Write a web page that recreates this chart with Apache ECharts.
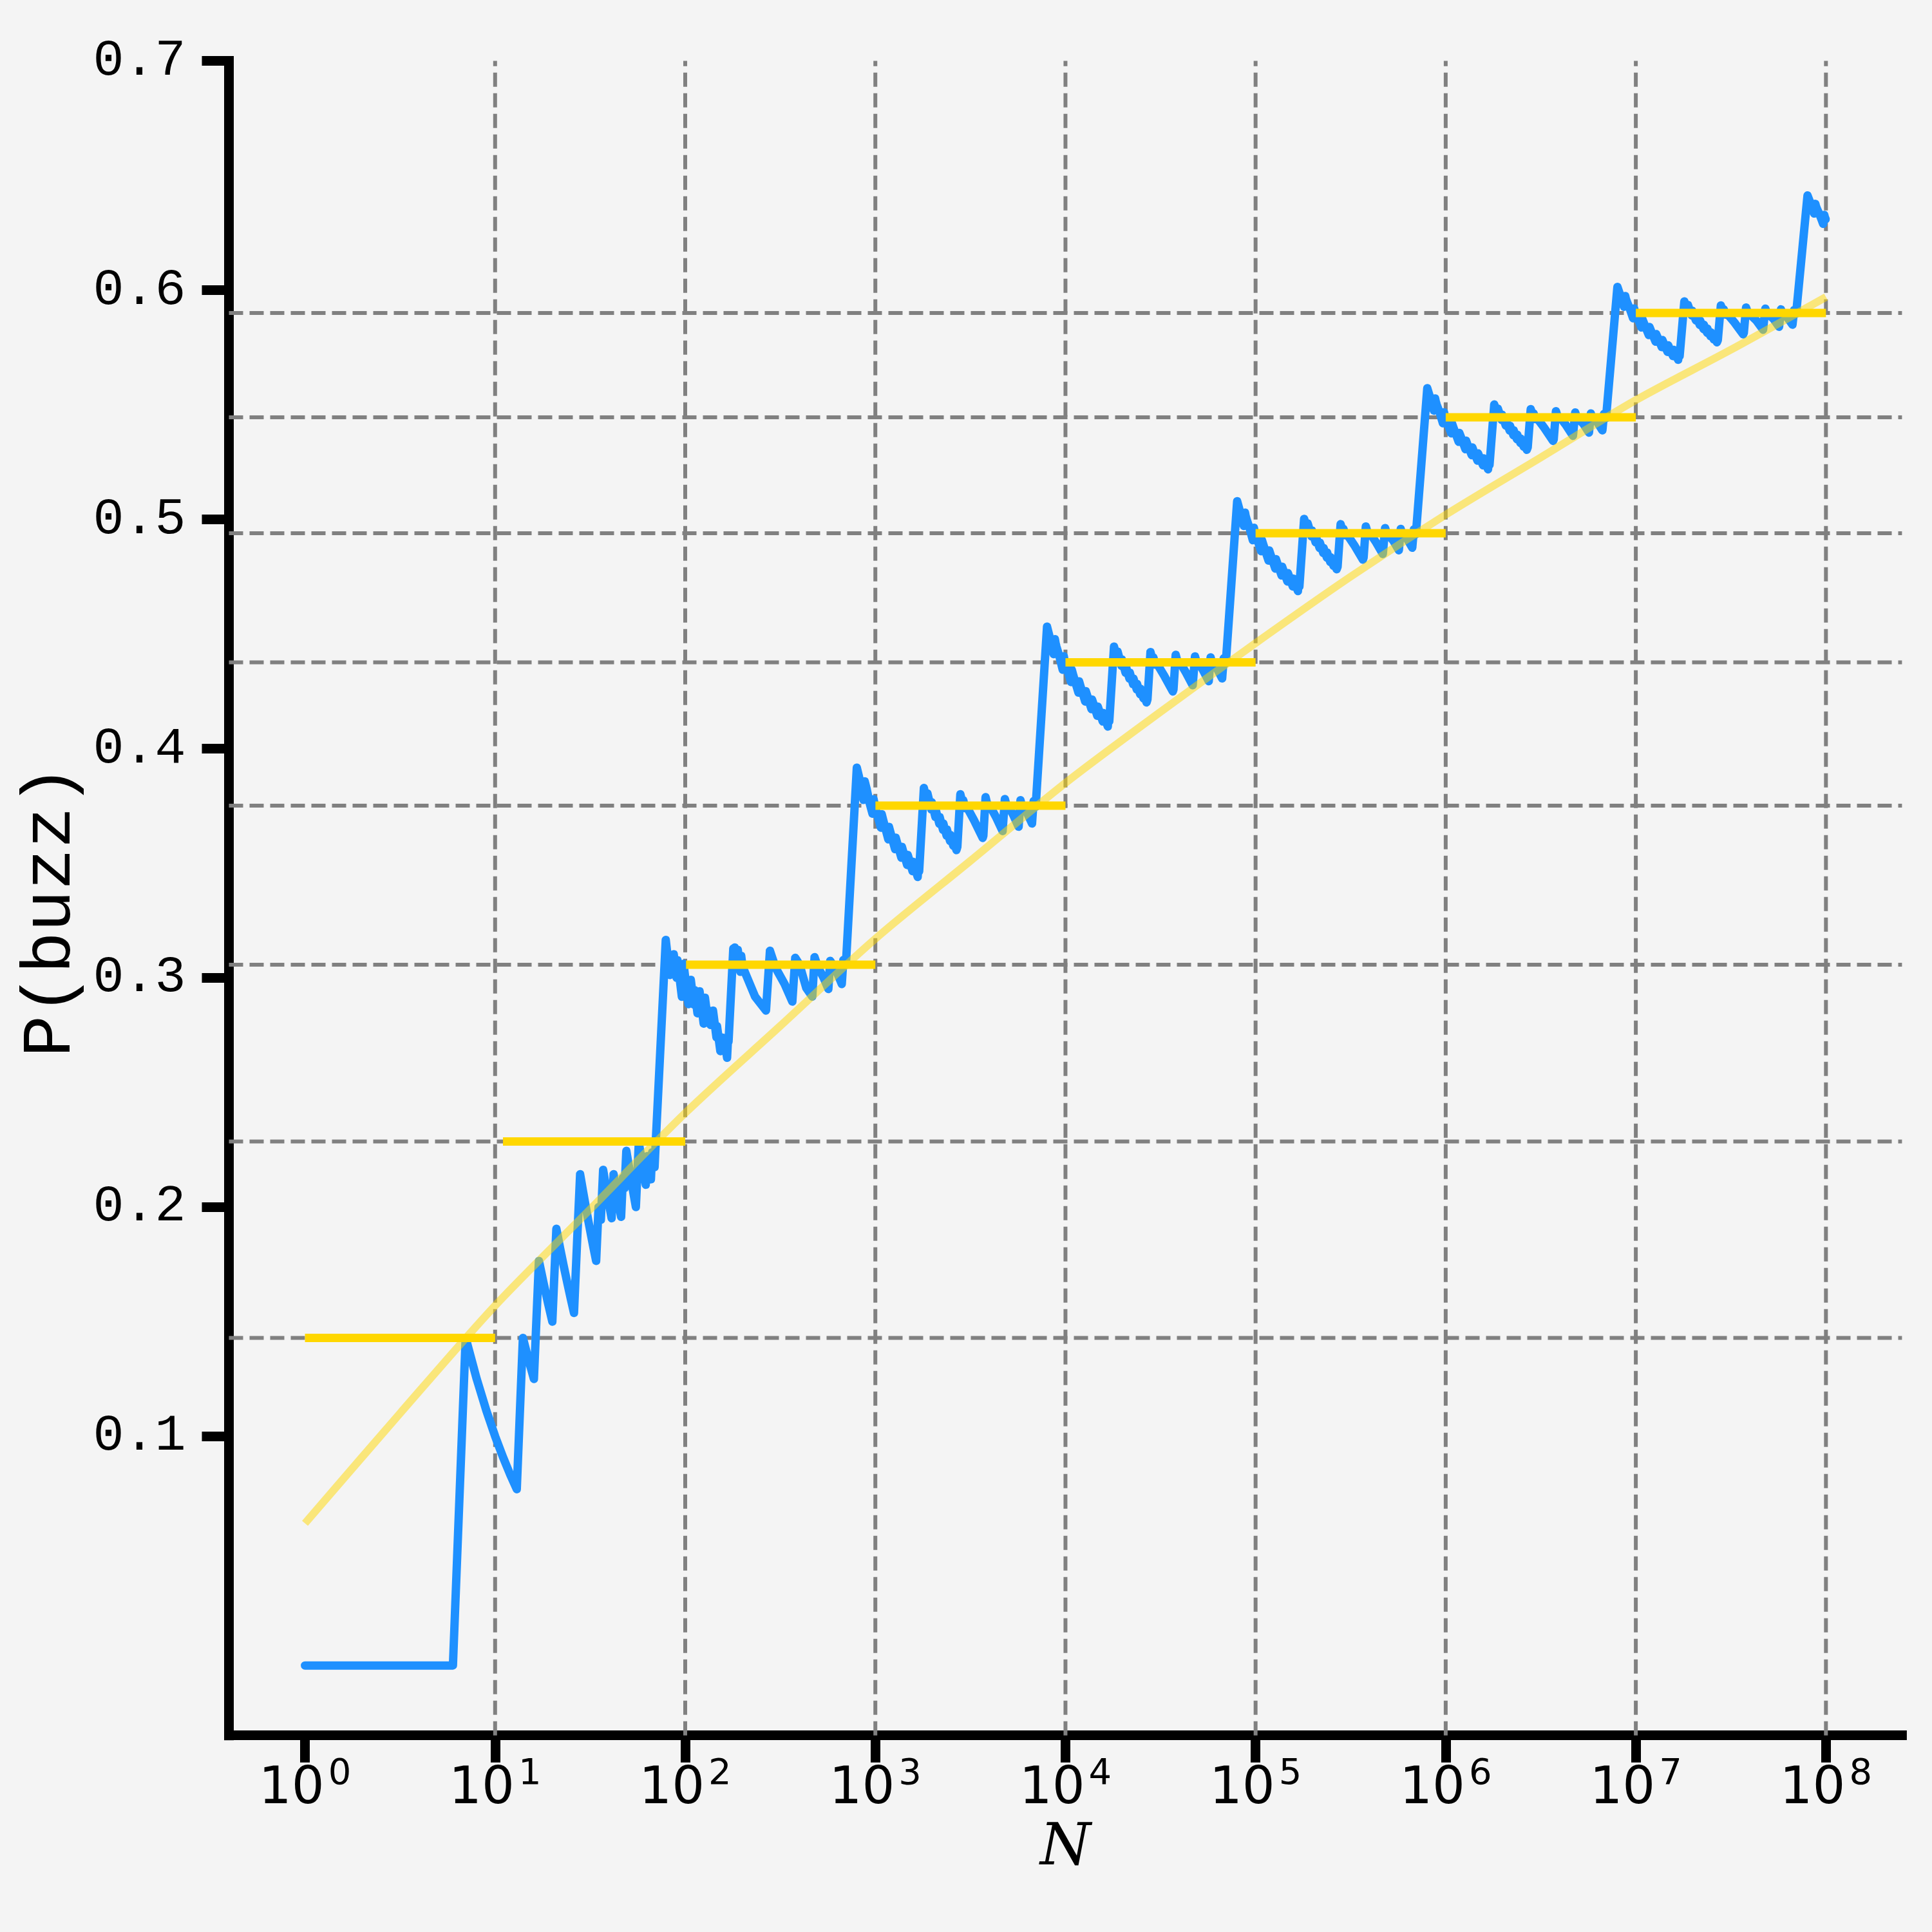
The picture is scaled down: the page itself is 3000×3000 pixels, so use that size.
<!DOCTYPE html>
<html>
<head>
<meta charset="utf-8">
<script src="https://cdn.jsdelivr.net/npm/echarts@6/dist/echarts.min.js"></script>
<style>
html,body{margin:0;padding:0;background:#f4f4f4;}
#chart{width:3000px;height:3000px;}
</style>
</head>
<body>
<div id="chart"></div>
<script>
// ---------------- data ----------------
// P(buzz) for N = 1 .. 99 (integer-resolution part of the blue curve)
const buzzDecade0 = [[1,0],[6,0],[7,0.1429],[8,0.125],[9,0.1111],[10,0.1]];
const buzzDecade1 = [[11,0.0909],[12,0.0833],[13,0.0769],[14,0.1429],[15,0.1333],[16,0.125],[17,0.1765],[18,0.1667],[19,0.1579],[20,0.15],
  [21,0.1905],[22,0.1818],[23,0.1739],[24,0.1667],[25,0.16],[26,0.1538],[27,0.1852],[28,0.2143],[29,0.2069],[30,0.2],
  [31,0.1935],[32,0.1875],[33,0.1818],[34,0.1765],[35,0.2],[36,0.1944],[37,0.2162],[38,0.2105],[39,0.2051],[40,0.2],
  [41,0.1951],[42,0.2143],[43,0.2093],[44,0.2045],[45,0.2],[46,0.1957],[47,0.2128],[48,0.2083],[49,0.2245],[52,0.2115],
  [55,0.2],[56,0.2143],[57,0.2281],[60,0.2167],[62,0.2097],[63,0.2222],[66,0.2121],[67,0.2239],[69,0.2174],[70,0.2286],
  [79,0.3165],[80,0.3125],[83,0.3012],[84,0.3095],[86,0.3023],[87,0.3103],[90,0.3],[91,0.3077],[96,0.2917],[97,0.299],
  [98,0.3061],[99,0.303]];
const buzzDecade2 = [[100,0.3],[104,0.2885],[105,0.2952],[106,0.2925],[107,0.2991],[111,0.2883],[112,0.2946],[116,0.2845],[117,0.2906],[118,0.2881],
  [119,0.2941],[125,0.28],[126,0.2857],[127,0.2913],[132,0.2803],[133,0.2857],[136,0.2794],[137,0.2847],[139,0.2806],[140,0.2857],
  [146,0.274],[147,0.2789],[153,0.268],[154,0.2727],[156,0.2692],[157,0.2739],[160,0.2688],[161,0.2733],[166,0.2651],[167,0.2695],
  [168,0.2738],[169,0.2722],[179,0.3128],[181,0.3094],[182,0.3132],[186,0.3065],[187,0.3102],[189,0.3122],[195,0.3026],[196,0.3061],
  [197,0.3096],[200,0.305],[233,0.2918],[266,0.2857],[279,0.3118],[299,0.3043],[333,0.2973],[366,0.2896],[379,0.3087],[399,0.3058],
  [433,0.2956],[466,0.2918],[479,0.309],[499,0.3046],[533,0.3002],[566,0.2951],[579,0.3074],[599,0.3055],[633,0.3017],[666,0.2973],
  [679,0.3078],[700,0.3057],[799,0.3917],[833,0.3854],[866,0.3776],[879,0.3857],[899,0.3826],[933,0.3762],[966,0.3716],[979,0.3779],
  [999,0.3744]];

// positions inside each later decade (N / 10^k) where the curve turns
const stepMantissa = [1,1.07,1.08,1.1,1.17,1.18,1.2,1.27,1.28,1.3,
  1.37,1.38,1.4,1.47,1.48,1.5,1.57,1.58,1.6,1.67,
  1.68,1.7,1.8,1.87,1.88,1.9,1.97,1.98,2,2.07,
  2.08,2.1,2.17,2.18,2.2,2.27,2.28,2.3,2.37,2.38,
  2.4,2.47,2.48,2.5,2.57,2.58,2.6,2.67,2.7,2.8,
  2.87,2.9,2.97,3,3.3,3.67,3.7,3.8,3.87,3.97,
  4,4.3,4.67,4.8,4.87,4.97,5,5.3,5.67,5.8,
  5.87,5.97,6,6.3,6.67,6.8,6.87,6.97,7,8,
  8.3,8.67,8.7,8.8,8.87,8.97,9,9.3,9.67,9.7,
  9.8,9.87,9.97];

const buzzP3 = [0.3745,0.3655,0.3714,0.3688,0.3604,0.3658,0.3635,0.3561,0.3611,0.3591,
  0.3524,0.3571,0.3553,0.3492,0.3536,0.3520,0.3465,0.3506,0.3491,0.3440,
  0.3479,0.3465,0.3828,0.3770,0.3804,0.3788,0.3734,0.3766,0.3751,0.3701,
  0.3732,0.3718,0.3672,0.3701,0.3688,0.3645,0.3673,0.3660,0.3620,0.3647,
  0.3635,0.3597,0.3623,0.3612,0.3576,0.3601,0.3591,0.3557,0.3571,0.3801,
  0.3764,0.3775,0.3740,0.3751,0.3688,0.3610,0.3620,0.3788,0.3760,0.3743,
  0.3751,0.3703,0.3640,0.3780,0.3759,0.3744,0.3751,0.3712,0.3659,0.3775,
  0.3757,0.3745,0.3751,0.3718,0.3673,0.3771,0.3756,0.3746,0.3751,0.4532,
  0.4479,0.4412,0.4413,0.4477,0.4460,0.4444,0.4445,0.4401,0.4344,0.4345,
  0.4403,0.4388,0.4374];
const buzzP4 = [0.4376,0.4290,0.4343,0.4319,0.4244,0.4293,0.4272,0.4205,0.4250,0.4232,
  0.4172,0.4214,0.4198,0.4143,0.4183,0.4168,0.4118,0.4155,0.4142,0.4096,
  0.4131,0.4119,0.4445,0.4393,0.4423,0.4409,0.4361,0.4389,0.4376,0.4331,
  0.4359,0.4346,0.4305,0.4331,0.4319,0.4280,0.4305,0.4295,0.4258,0.4282,
  0.4272,0.4237,0.4261,0.4251,0.4219,0.4241,0.4232,0.4201,0.4214,0.4421,
  0.4387,0.4398,0.4366,0.4376,0.4319,0.4249,0.4258,0.4409,0.4384,0.4369,
  0.4376,0.4332,0.4276,0.4402,0.4383,0.4370,0.4376,0.4341,0.4294,0.4398,
  0.4382,0.4371,0.4376,0.4346,0.4306,0.4394,0.4381,0.4372,0.4376,0.5079,
  0.5031,0.4971,0.4972,0.5029,0.5014,0.5000,0.5001,0.4961,0.4909,0.4911,
  0.4963,0.4949,0.4937];
const buzzP5 = [0.4939,0.4861,0.4909,0.4888,0.4820,0.4864,0.4845,0.4785,0.4826,0.4809,
  0.4755,0.4793,0.4778,0.4729,0.4765,0.4752,0.4707,0.4741,0.4728,0.4687,
  0.4719,0.4707,0.5002,0.4955,0.4982,0.4969,0.4925,0.4951,0.4939,0.4899,
  0.4923,0.4912,0.4875,0.4898,0.4888,0.4853,0.4875,0.4866,0.4833,0.4855,
  0.4845,0.4814,0.4835,0.4827,0.4797,0.4817,0.4809,0.4782,0.4793,0.4979,
  0.4949,0.4958,0.4930,0.4939,0.4888,0.4824,0.4833,0.4969,0.4947,0.4932,
  0.4939,0.4900,0.4849,0.4962,0.4945,0.4934,0.4939,0.4907,0.4865,0.4958,
  0.4944,0.4935,0.4939,0.4912,0.4876,0.4956,0.4943,0.4935,0.4939,0.5572,
  0.5528,0.5474,0.5476,0.5527,0.5513,0.5500,0.5501,0.5465,0.5419,0.5420,
  0.5467,0.5455,0.5444];
const buzzP6 = [0.5445,0.5375,0.5418,0.5399,0.5338,0.5377,0.5361,0.5306,0.5343,0.5328,
  0.5280,0.5314,0.5300,0.5256,0.5288,0.5276,0.5236,0.5266,0.5255,0.5218,
  0.5247,0.5237,0.5501,0.5459,0.5483,0.5472,0.5433,0.5456,0.5445,0.5409,
  0.5431,0.5421,0.5387,0.5408,0.5399,0.5367,0.5388,0.5379,0.5349,0.5369,
  0.5361,0.5333,0.5352,0.5344,0.5317,0.5336,0.5328,0.5303,0.5314,0.5481,
  0.5454,0.5462,0.5437,0.5445,0.5399,0.5342,0.5349,0.5472,0.5452,0.5439,
  0.5445,0.5410,0.5364,0.5466,0.5450,0.5440,0.5445,0.5416,0.5378,0.5462,
  0.5449,0.5441,0.5445,0.5421,0.5388,0.5460,0.5449,0.5441,0.5445,0.6014,
  0.5975,0.5927,0.5928,0.5974,0.5961,0.5950,0.5951,0.5918,0.5877,0.5878,
  0.5920,0.5909,0.5900];
const buzzP7 = [0.5900,0.5837,0.5876,0.5859,0.5804,0.5839,0.5824,0.5775,0.5808,0.5795,
  0.5751,0.5782,0.5770,0.5730,0.5759,0.5748,0.5712,0.5739,0.5729,0.5696,
  0.5722,0.5712,0.5951,0.5913,0.5935,0.5924,0.5889,0.5910,0.5900,0.5868,
  0.5887,0.5878,0.5848,0.5867,0.5859,0.5830,0.5849,0.5841,0.5814,0.5832,
  0.5824,0.5799,0.5816,0.5809,0.5785,0.5802,0.5795,0.5772,0.5782,0.5933,
  0.5909,0.5916,0.5893,0.5900,0.5859,0.5807,0.5814,0.5924,0.5906,0.5895,
  0.5900,0.5868,0.5827,0.5919,0.5905,0.5896,0.5900,0.5874,0.5840,0.5916,
  0.5904,0.5896,0.5900,0.5878,0.5849,0.5913,0.5903,0.5897,0.5900,0.6413,
  0.6378,0.6334,0.6335,0.6376,0.6365,0.6355,0.6356,0.6326,0.6289,0.6290,
  0.6328,0.6318,0.6309];
const buzzEnd = [1e8, 0.6310];

// decade averages (yellow bars)
const decadeStart = [1, 11, 101, 1001, 10001, 100001, 1000001, 10000001];
const decadeEnd   = [10, 100, 1000, 1e4, 1e5, 1e6, 1e7, 1e8];
const decadeLevel = [0.1429, 0.2286, 0.3057, 0.3751, 0.4376, 0.4939, 0.5445, 0.5900];

// smooth fitted curve (faint yellow)
const fitN = [1, 3.162, 10, 31.62, 100, 316.2, 1000, 3162, 1e4, 31623, 1e5, 316228, 1e6, 3162278, 1e7, 31622777, 1e8];
const fitP = [0.062, 0.110, 0.157, 0.199, 0.241, 0.279, 0.317, 0.351, 0.385, 0.416, 0.446, 0.475, 0.502, 0.527, 0.552, 0.574, 0.597];

// axes
const xTicks = [1, 10, 100, 1e3, 1e4, 1e5, 1e6, 1e7, 1e8];
const yTicks = [0.1, 0.2, 0.3, 0.4, 0.5, 0.6, 0.7];
const vGridAt = [10, 100, 1e3, 1e4, 1e5, 1e6, 1e7, 1e8];
const xMin = Math.pow(10, -0.4), xMax = Math.pow(10, 8.4);
const yMin = -0.0305, yMax = 0.7;

// ---------------- build ----------------
const blueData = [].concat(buzzDecade0, buzzDecade1, buzzDecade2);
[buzzP3, buzzP4, buzzP5, buzzP6, buzzP7].forEach((arr, idx) => {
  const scale = Math.pow(10, idx + 3);
  stepMantissa.forEach((m, i) => blueData.push([m * scale, arr[i]]));
});
blueData.push(buzzEnd);

const monoFont = "'Courier New', 'Liberation Mono', monospace";
const gridStyle = {color: '#808080', width: 6, type: [22, 10]};

const series = [];
vGridAt.forEach(v => series.push({
  type: 'line', data: [[v, yMin], [v, yMax]], showSymbol: false, silent: true,
  lineStyle: gridStyle, z: 1, animation: false
}));
decadeLevel.forEach(l => series.push({
  type: 'line', data: [[xMin, l], [xMax, l]], showSymbol: false, silent: true,
  lineStyle: gridStyle, z: 1, animation: false
}));
series.push({
  type: 'line', data: blueData, showSymbol: false, silent: true, z: 2,
  lineStyle: {color: '#1e90ff', width: 13, join: 'round', cap: 'round'}
});
series.push({
  type: 'line', data: fitN.map((n, i) => [n, fitP[i]]), showSymbol: false, silent: true, z: 3,
  smooth: 0.3,
  lineStyle: {color: '#ffd700', width: 12, opacity: 0.5}
});
decadeStart.forEach((s, i) => series.push({
  type: 'line', data: [[s, decadeLevel[i]], [decadeEnd[i], decadeLevel[i]]],
  showSymbol: false, silent: true, z: 4,
  lineStyle: {color: '#ffd700', width: 13, cap: 'butt'}
}));

const chart = echarts.init(document.getElementById('chart'), null, {renderer: 'canvas'});
chart.setOption({
  backgroundColor: '#f4f4f4',
  animation: false,
  grid: {left: 355.5, right: 46.6, top: 94.5, bottom: 305.3, containLabel: false},
  xAxis: {
    type: 'log', logBase: 10, min: xMin, max: xMax,
    name: 'N', nameLocation: 'middle', nameGap: 132,
    nameTextStyle: {fontFamily: 'DejaVu Serif', fontStyle: 'italic', fontSize: 90, color: '#000'},
    axisLine: {show: true, onZero: false, lineStyle: {color: '#000', width: 15, cap: 'square'}},
    axisTick: {show: true, length: 42, customValues: xTicks, lineStyle: {color: '#000', width: 15}},
    axisLabel: {
      show: true, margin: 33, customValues: xTicks,
      formatter: v => '{b|10}{s|' + Math.round(Math.log10(v)) + '}',
      rich: {
        b: {fontFamily: 'DejaVu Sans', fontSize: 80, lineHeight: 92, color: '#000', verticalAlign: 'bottom'},
        s: {fontFamily: 'DejaVu Sans', fontSize: 56, lineHeight: 56, color: '#000', verticalAlign: 'top', padding: [0, 0, 0, 6]}
      }
    },
    splitLine: {show: false}, minorTick: {show: false}, minorSplitLine: {show: false}
  },
  yAxis: {
    type: 'value', min: yMin, max: yMax,
    name: 'P(buzz)', nameLocation: 'middle', nameGap: 209,
    nameTextStyle: {fontFamily: monoFont, fontSize: 108, color: '#000', padding: [0, 40, 0, 0]},
    axisLine: {show: true, onZero: false, lineStyle: {color: '#000', width: 15, cap: 'square'}},
    axisTick: {show: true, length: 42, customValues: yTicks, lineStyle: {color: '#000', width: 15}},
    axisLabel: {
      show: true, margin: 67, customValues: yTicks,
      formatter: v => Number(v).toFixed(1),
      fontFamily: monoFont, fontSize: 80, color: '#000'
    },
    splitLine: {show: false}
  },
  series: series
});
</script>
</body>
</html>
